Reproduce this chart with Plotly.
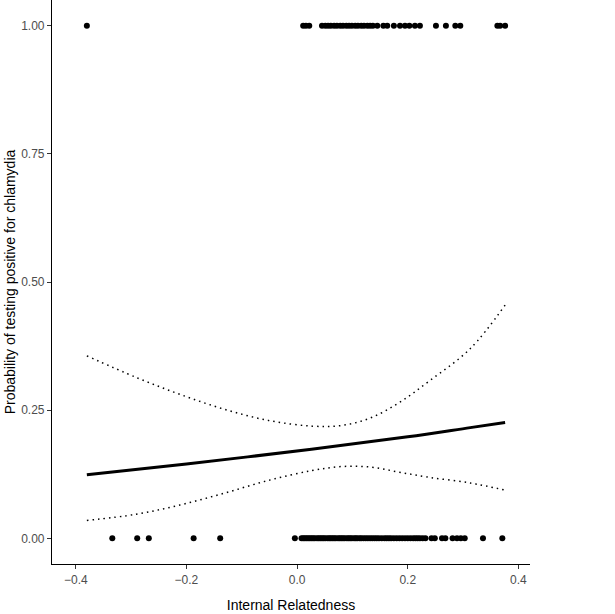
import plotly.graph_objects as go

# Observed outcomes (x = internal relatedness)
x_positive = [-0.380, 0.011, 0.016, 0.022, 0.045, 0.051, 0.056, 0.061, 0.067, 0.072, 0.078,
              0.083, 0.089, 0.094, 0.099, 0.105, 0.110, 0.116, 0.121, 0.127, 0.132, 0.137,
              0.145, 0.156, 0.163, 0.175, 0.186, 0.195, 0.203, 0.213, 0.222, 0.251, 0.269,
              0.286, 0.295, 0.362, 0.367, 0.376]
x_negative = [-0.334, -0.289, -0.268, -0.187, -0.139, -0.004,
              0.008, 0.011, 0.014, 0.017, 0.020, 0.023, 0.026, 0.029, 0.032, 0.036, 0.039,
              0.042, 0.045, 0.048, 0.051, 0.055, 0.058, 0.061, 0.064, 0.067, 0.070, 0.074,
              0.077, 0.080, 0.083, 0.086, 0.090, 0.093, 0.096, 0.099, 0.103, 0.106, 0.109,
              0.113, 0.116, 0.120, 0.124, 0.128, 0.132, 0.136, 0.140, 0.144, 0.148, 0.153,
              0.158, 0.162, 0.166, 0.170, 0.175, 0.180, 0.185, 0.190, 0.195, 0.200, 0.205,
              0.210, 0.214, 0.218, 0.222, 0.227, 0.232, 0.243, 0.249, 0.262, 0.268, 0.281,
              0.289, 0.296, 0.303, 0.336, 0.371]

# Fitted probability and confidence band
fit_x = [-0.380, -0.2, 0.026, 0.2, 0.313, 0.376]
fit_y = [0.124, 0.145, 0.174, 0.198, 0.216, 0.226]
band_x = [-0.380, -0.291, -0.212, -0.132, -0.052, 0.026, 0.080, 0.133, 0.185, 0.239, 0.313, 0.376]
upper_y = [0.356, 0.314, 0.281, 0.252, 0.230, 0.219, 0.220, 0.235, 0.265, 0.307, 0.370, 0.455]
lower_y = [0.035, 0.047, 0.065, 0.088, 0.113, 0.132, 0.140, 0.139, 0.129, 0.119, 0.108, 0.094]

y_ticks = [0, 0.25, 0.5, 0.75, 1.0]
y_tick_text = ["0.00", "0.25", "0.50", "0.75", "1.00"]
x_ticks = [-0.4, -0.2, 0.0, 0.2, 0.4]
x_tick_text = ["\u22120.4", "\u22120.2", "0.0", "0.2", "0.4"]

fig = go.Figure()
fig.add_trace(go.Scatter(x=x_positive, y=[1.0] * len(x_positive), mode="markers",
                         marker=dict(color="black", size=6), showlegend=False))
fig.add_trace(go.Scatter(x=x_negative, y=[0.0] * len(x_negative), mode="markers",
                         marker=dict(color="black", size=6), showlegend=False))
fig.add_trace(go.Scatter(x=band_x, y=upper_y, mode="lines", line_shape="spline",
                         line=dict(color="black", width=1.5, dash="1.5px,4px"), showlegend=False))
fig.add_trace(go.Scatter(x=band_x, y=lower_y, mode="lines", line_shape="spline",
                         line=dict(color="black", width=1.5, dash="1.5px,4px"), showlegend=False))
fig.add_trace(go.Scatter(x=fit_x, y=fit_y, mode="lines", line_shape="spline",
                         line=dict(color="black", width=3), showlegend=False))

axis_common = dict(showgrid=False, zeroline=False, showline=True, linecolor="black", linewidth=1.2,
                   ticks="outside", ticklen=4, tickcolor="#333333", tickwidth=1,
                   tickfont=dict(family="Liberation Sans, Arial", size=12, color="#4D4D4D"))
fig.update_layout(
    width=615, height=614,
    margin=dict(l=52, r=85, t=0, b=50),
    paper_bgcolor="white", plot_bgcolor="white",
    xaxis=dict(range=[-0.443, 0.421], tickvals=x_ticks, ticktext=x_tick_text,
               title=dict(text="Internal Relatedness", standoff=14,
                          font=dict(family="Liberation Sans, Arial", size=14, color="black")),
               **axis_common),
    yaxis=dict(range=[-0.05, 1.05], tickvals=y_ticks, ticktext=y_tick_text,
               title=dict(text="Probability of testing positive for chlamydia", standoff=2,
                          font=dict(family="Liberation Sans, Arial", size=14, color="black")),
               **axis_common),
)
fig.write_html("out.html", config={"displayModeBar": False},
               post_script="document.body.style.margin='0';")
